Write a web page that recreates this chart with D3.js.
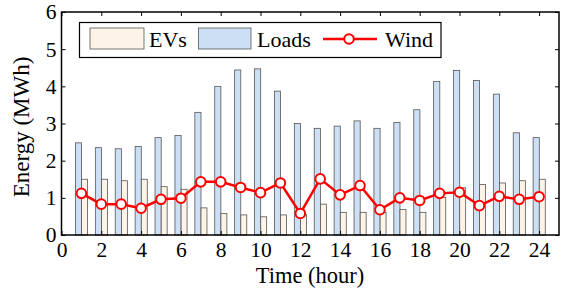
<!DOCTYPE html>
<html>
<head>
<meta charset="utf-8">
<script src="https://cdn.jsdelivr.net/npm/d3@7"></script>
<style>
  body { margin: 0; background: #fff; }
  svg text { font-family: "Liberation Serif", "Times New Roman", Times, "DejaVu Serif", serif !important; }
</style>
</head>
<body>
<div id="chart-area"></div>
<script>
const hours = d3.range(1, 25);
const evs = [1.50, 1.50, 1.46, 1.50, 1.30, 1.23, 0.73, 0.58, 0.54, 0.49, 0.54, 0.55,
             0.83, 0.61, 0.61, 0.61, 0.69, 0.61, 1.01, 1.27, 1.36, 1.40, 1.46, 1.50];
const loads = [2.48, 2.35, 2.32, 2.38, 2.62, 2.68, 3.30, 4.00, 4.44, 4.47, 3.87, 3.00,
               2.87, 2.93, 3.07, 2.87, 3.03, 3.37, 4.13, 4.43, 4.16, 3.79, 2.75, 2.62];
const wind = [1.12, 0.83, 0.83, 0.72, 0.96, 0.99, 1.43, 1.43, 1.28, 1.14, 1.40, 0.58,
              1.51, 1.08, 1.33, 0.68, 1.00, 0.93, 1.12, 1.15, 0.79, 1.04, 0.96, 1.03];
const xTicks = d3.range(0, 25, 2);
const yTicks = [0, 1, 2, 3, 4, 5, 6];

const W = 561, H = 295;
const margin = {top: 12, right: 2, bottom: 60, left: 61.5};
const pLeft = margin.left, pRight = W - margin.right, pTop = margin.top, pBottom = H - margin.bottom;

const svg = d3.select('#chart-area').append('svg')
  .attr('width', W).attr('height', H);

const x = d3.scaleLinear().domain([0, 25]).range([pLeft, pRight]);
const y = d3.scaleLinear().domain([0, 6]).range([pBottom, pTop]);

// bars
const barStroke = '#555';
svg.append('g').selectAll('rect.loads')
  .data(hours).enter().append('rect')
  .attr('x', d => x(d - 0.30))
  .attr('y', (d, i) => y(loads[i]))
  .attr('width', x(0.31) - x(0))
  .attr('height', (d, i) => y(0) - y(loads[i]))
  .attr('fill', '#cddff5')
  .attr('stroke', barStroke).attr('stroke-width', 0.8);

svg.append('g').selectAll('rect.evs')
  .data(hours).enter().append('rect')
  .attr('x', d => x(d + 0.01))
  .attr('y', (d, i) => y(evs[i]))
  .attr('width', x(0.30) - x(0))
  .attr('height', (d, i) => y(0) - y(evs[i]))
  .attr('fill', '#fdf3e7')
  .attr('stroke', barStroke).attr('stroke-width', 0.8);

// wind line
const line = d3.line().x((d, i) => x(hours[i])).y(d => y(d));
svg.append('path').datum(wind)
  .attr('d', line)
  .attr('fill', 'none').attr('stroke', '#ff0000').attr('stroke-width', 2.5);
svg.append('g').selectAll('circle')
  .data(wind).enter().append('circle')
  .attr('cx', (d, i) => x(hours[i]))
  .attr('cy', d => y(d))
  .attr('r', 4.8)
  .attr('fill', '#fff').attr('stroke', '#ff0000').attr('stroke-width', 2);

// axes (ticks inward, mirrored on top/right)
const tl = 4;
const fs = '21.5px';
const axB = svg.append('g').attr('transform', `translate(0,${pBottom})`)
  .call(d3.axisBottom(x).tickValues(xTicks).tickFormat(d3.format('d'))
    .tickSizeInner(-tl).tickSizeOuter(0).tickPadding(7));
const axT = svg.append('g').attr('transform', `translate(0,${pTop})`)
  .call(d3.axisTop(x).tickValues(xTicks).tickSizeInner(-tl).tickSizeOuter(0).tickFormat(''));
const axL = svg.append('g').attr('transform', `translate(${pLeft},0)`)
  .call(d3.axisLeft(y).tickValues(yTicks).tickFormat(d3.format('d'))
    .tickSizeInner(-tl).tickSizeOuter(0).tickPadding(5));
const axR = svg.append('g').attr('transform', `translate(${pRight},0)`)
  .call(d3.axisRight(y).tickValues(yTicks).tickSizeInner(-tl).tickSizeOuter(0).tickFormat(''));
[axB, axT, axL, axR].forEach(g => {
  g.attr('font-family', null).attr('font-size', null);
  g.select('.domain').remove();
  g.selectAll('line').attr('stroke', '#000').attr('stroke-width', 1);
  g.selectAll('text').attr('fill', '#000').style('font-size', fs);
});

svg.append('rect')
  .attr('x', pLeft).attr('y', pTop)
  .attr('width', pRight - pLeft).attr('height', pBottom - pTop)
  .attr('fill', 'none').attr('stroke', '#000').attr('stroke-width', 1.5);

// axis titles
svg.append('text')
  .attr('x', 310).attr('y', 283)
  .attr('text-anchor', 'middle').style('font-size', '22.5px')
  .text('Time (hour)');
svg.append('text')
  .attr('transform', `translate(29,127) rotate(-90)`)
  .attr('text-anchor', 'middle').style('font-size', '23px')
  .text('Energy (MWh)');

// legend
const lg = svg.append('g');
lg.append('rect').attr('x', 79.5).attr('y', 22.5).attr('width', 361.5).attr('height', 35)
  .attr('fill', '#fff').attr('stroke', '#000').attr('stroke-width', 1.2);
lg.append('rect').attr('x', 90).attr('y', 28).attr('width', 54).attr('height', 21)
  .attr('fill', '#fdf3e7').attr('stroke', barStroke).attr('stroke-width', 0.8);
lg.append('text').attr('x', 149).attr('y', 47).style('font-size', '22px').text('EVs');
lg.append('rect').attr('x', 198.5).attr('y', 28).attr('width', 52.5).attr('height', 21)
  .attr('fill', '#cddff5').attr('stroke', barStroke).attr('stroke-width', 0.8);
lg.append('text').attr('x', 257).attr('y', 47).style('font-size', '22px').text('Loads');
lg.append('line').attr('x1', 323).attr('x2', 377).attr('y1', 39).attr('y2', 39)
  .attr('stroke', '#ff0000').attr('stroke-width', 2.5);
lg.append('circle').attr('cx', 349).attr('cy', 39).attr('r', 4.8)
  .attr('fill', '#fff').attr('stroke', '#ff0000').attr('stroke-width', 2);
lg.append('text').attr('x', 385).attr('y', 47).style('font-size', '22px').text('Wind');
</script>
</body>
</html>
